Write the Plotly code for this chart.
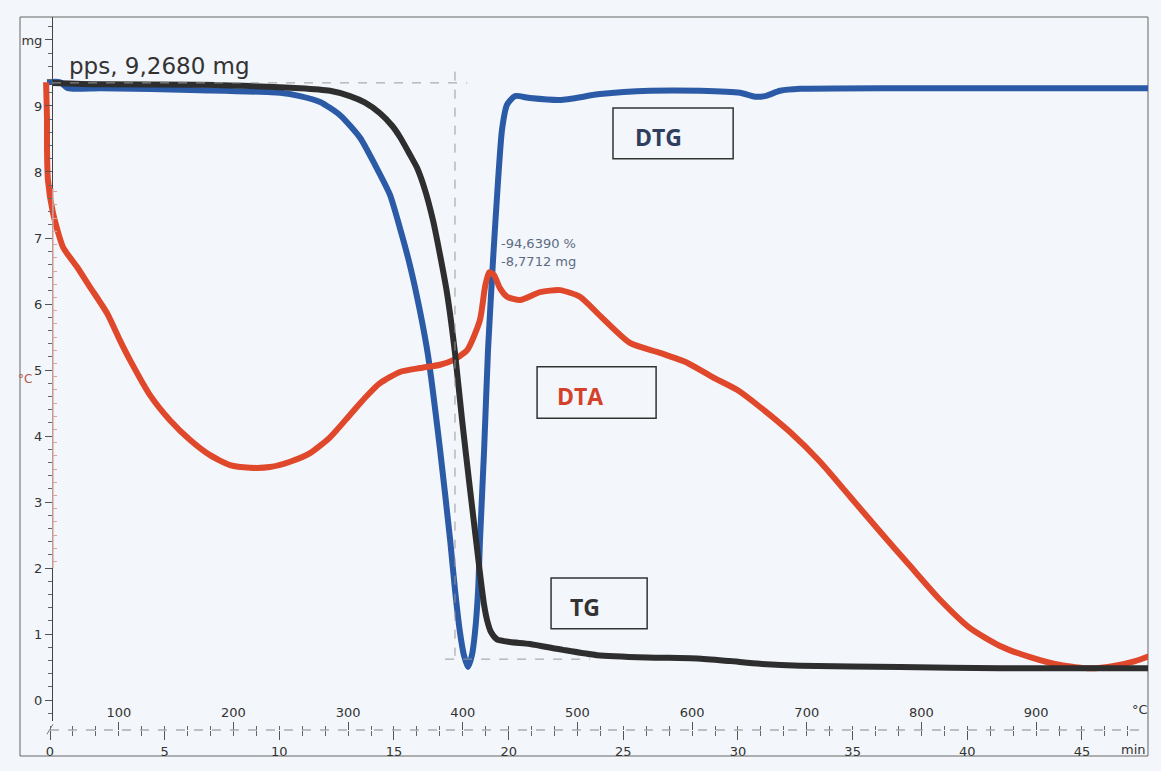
import plotly.graph_objects as go

# ---- data (time in min, signal in mg-axis units) ----
tg_t = [0.09, 2.18, 6.54, 10.90, 12.21, 13.08, 13.74, 14.39, 14.92, 15.26, 15.70, 16.01,
        16.35, 16.70, 17.01, 17.31, 17.66, 17.97, 18.32, 18.58, 18.75, 18.93, 19.06, 19.23,
        19.49, 20.06, 20.93, 22.37, 23.86, 26.04, 28.22, 29.66, 30.96, 32.71, 37.07, 41.43, 47.88]
tg_v = [9.35, 9.33, 9.32, 9.27, 9.23, 9.15, 9.05, 8.89, 8.70, 8.53, 8.26, 8.06,
        7.73, 7.27, 6.74, 6.17, 5.26, 4.24, 3.18, 2.42, 1.92, 1.44, 1.21, 1.03,
        0.92, 0.88, 0.85, 0.76, 0.68, 0.645, 0.63, 0.59, 0.55, 0.52, 0.50, 0.48, 0.48]

dtg_t = [-0.13, 0.44, 0.78, 2.18, 6.54, 10.03, 10.90, 11.78, 12.65, 13.52, 14.17, 14.83,
         15.26, 15.70, 16.14, 16.48, 17.01, 17.45, 17.66, 17.88, 18.05, 18.23, 18.40, 18.53,
         18.67, 18.75, 18.93, 19.10, 19.32, 19.54, 19.71, 19.93, 20.28, 20.93, 22.24, 23.99,
         26.17, 28.35, 30.09, 30.75, 31.18, 31.84, 32.71, 37.07, 47.88]
dtg_v = [9.36, 9.36, 9.27, 9.27, 9.24, 9.20, 9.15, 9.06, 8.86, 8.52, 8.11, 7.65,
         7.15, 6.58, 5.88, 5.23, 3.79, 2.42, 1.67, 1.02, 0.68, 0.50, 0.68, 1.02,
         1.67, 2.42, 3.79, 5.30, 6.67, 7.88, 8.64, 9.02, 9.15, 9.12, 9.09, 9.18,
         9.23, 9.23, 9.20, 9.14, 9.15, 9.23, 9.26, 9.27, 9.27]

dta_t = [-0.17, -0.13, -0.13, -0.09, 0.13, 0.57, 1.18, 1.74, 2.49, 3.05, 3.49, 4.36,
         5.23, 6.11, 6.98, 7.85, 8.72, 9.59, 10.47, 11.34, 12.21, 13.08, 13.74, 14.39,
         15.26, 16.14, 17.01, 17.58, 18.19, 18.75, 18.97, 19.15, 19.36, 19.62, 19.93, 20.50,
         21.37, 22.24, 23.11, 23.99, 25.29, 26.60, 27.78, 28.91, 29.96, 30.96, 32.27, 33.58,
         34.89, 36.20, 37.51, 38.81, 40.12, 41.43, 42.74, 44.05, 45.36, 46.45, 47.32, 47.97]
dta_v = [9.36, 8.79, 8.33, 7.88, 7.38, 6.86, 6.56, 6.26, 5.86, 5.45, 5.15, 4.62,
         4.24, 3.94, 3.71, 3.56, 3.52, 3.53, 3.61, 3.74, 3.98, 4.32, 4.58, 4.80,
         4.97, 5.03, 5.08, 5.15, 5.30, 5.76, 6.26, 6.48, 6.44, 6.24, 6.11, 6.06,
         6.18, 6.21, 6.11, 5.82, 5.41, 5.26, 5.11, 4.89, 4.70, 4.44, 4.06, 3.61,
         3.08, 2.55, 2.03, 1.52, 1.09, 0.82, 0.65, 0.53, 0.48, 0.52, 0.59, 0.67]

y_tickvals = [0, 1, 2, 3, 4, 5, 6, 7, 8, 9, 10]
y_ticktext = ["0", "1", "2", "3", "4", "5", "6", "7", "8", "9", "mg"]
min_ticks = [0, 5, 10, 15, 20, 25, 30, 35, 40, 45]
temp_ticks = [100, 200, 300, 400, 500, 600, 700, 800, 900]

# ---- styling ----
BG = "#f3f6fa"
FONT = "DejaVu Sans"
C_TG, C_DTG, C_DTA = "#2e2e2e", "#2b5aa6", "#e0482b"
PINK = "#d9a3a0"

T_MIN, T_MAX = -0.436, 47.88          # minutes
TEMP0, RATE = 40, 20                   # °C at t=0, K/min (heating programme)
Y_RANGE = [-0.324, 10.348]
Y_DOMAIN = [0.012, 1]
Y_POS = 0.0108

tg_temp = [TEMP0 + RATE * t for t in tg_t]   # TG drawn against the °C scale

fig = go.Figure()
fig.add_trace(go.Scatter(x=dta_t, y=dta_v, mode="lines", name="DTA", yaxis="y3",
                         line=dict(color=C_DTA, width=6, shape="spline", smoothing=0.6)))
fig.add_trace(go.Scatter(x=tg_temp, y=tg_v, mode="lines", name="TG", xaxis="x2",
                         line=dict(color=C_TG, width=6, shape="spline", smoothing=0.6)))
fig.add_trace(go.Scatter(x=dtg_t, y=dtg_v, mode="lines", name="DTG",
                         line=dict(color=C_DTG, width=6, shape="spline", smoothing=0.6)))

axis_font = dict(family=FONT, size=13, color="#333")
pink_ticks = [round(2.1 + 0.2 * i, 2) for i in range(29)]

fig.update_layout(
    width=1161, height=771,
    margin=dict(l=40, r=13, t=17, b=41),
    paper_bgcolor=BG, plot_bgcolor=BG,
    showlegend=False,
    font=dict(family=FONT),
    xaxis=dict(range=[T_MIN, T_MAX], domain=[0, 1], anchor="free", position=0,
               side="bottom", showline=False, showgrid=False, zeroline=False,
               tickvals=min_ticks, ticks="outside", ticklen=9, tickwidth=1, tickcolor="#555",
               minor=dict(ticks="outside", dtick=1, tick0=0, ticklen=5, tickcolor="#666"),
               tickfont=axis_font),
    xaxis2=dict(range=[TEMP0 + RATE * T_MIN, TEMP0 + RATE * T_MAX], overlaying="x",
                anchor="free", position=0, side="top", showline=False, showgrid=False,
                zeroline=False, tickvals=temp_ticks, ticks="outside", ticklen=8, tickwidth=1,
                tickcolor="#555",
                minor=dict(ticks="outside", dtick=20, tick0=0, ticklen=4, tickcolor="#666"),
                tickfont=axis_font),
    yaxis=dict(range=Y_RANGE, domain=Y_DOMAIN, anchor="free", position=Y_POS,
               showline=True, linecolor="#444", linewidth=1, showgrid=False, zeroline=False,
               tickvals=y_tickvals, ticktext=y_ticktext, ticks="outside", ticklen=7,
               tickcolor="#555",
               minor=dict(ticks="outside", dtick=0.2, tick0=0, ticklen=4, tickcolor="#666"),
               tickfont=axis_font),
    yaxis3=dict(range=Y_RANGE, overlaying="y", anchor="free", position=Y_POS,
                showline=False, showgrid=False, zeroline=False, showticklabels=False,
                tickvals=pink_ticks, ticks="inside", ticklen=4, tickcolor=PINK),
)

# outer frame and dashed temperature/time axis line
fig.add_shape(type="rect", xref="paper", yref="paper", x0=-0.01805, x1=1.0,
              y0=-0.03647, y1=1.0, line=dict(color="#666", width=1), layer="below")
fig.add_shape(type="line", xref="paper", yref="paper", x0=0.009, x1=1.0, y0=0, y1=0,
              line=dict(color="#888", width=1, dash="dash"))
fig.add_shape(type="line", xref="paper", yref="paper", x0=0.0063, x1=0.0117,
              y0=-0.006, y1=0.008, line=dict(color="#777", width=1))
# pinkish °C scale segment on the left axis
fig.add_shape(type="line", xref="paper", yref="y", x0=Y_POS + 0.0008, x1=Y_POS + 0.0008,
              y0=2.0, y1=7.75, line=dict(color=PINK, width=1.5))

# step markers (dashed)
fig.add_shape(type="line", xref="x", yref="y", x0=0.09, x1=18.19, y0=9.35, y1=9.35,
              line=dict(color="#9a9a9a", width=1, dash="dash"))
fig.add_shape(type="line", xref="x", yref="y", x0=17.66, x1=17.66, y0=9.52, y1=0.67,
              line=dict(color="#9a9a9a", width=1, dash="dash"))
fig.add_shape(type="line", xref="x", yref="y", x0=17.23, x1=23.55, y0=0.62, y1=0.62,
              line=dict(color="#9a9a9a", width=1, dash="dash"))

# label boxes
boxes = [("DTG", 24.55, 29.79, 8.20, 8.97, 26.52, 8.53, "#2f3d5e"),
         ("DTA", 21.24, 26.43, 4.27, 5.05, 23.11, 4.61, "#d4412a"),
         ("TG", 21.85, 26.04, 1.08, 1.85, 23.33, 1.41, "#333333")]
for txt, x0, x1, y0, y1, tx, ty, col in boxes:
    fig.add_shape(type="rect", xref="x", yref="y", x0=x0, x1=x1, y0=y0, y1=y1,
                  line=dict(color="#333", width=1.5))
    fig.add_annotation(x=tx, y=ty, xref="x", yref="y", text=f"<b>{txt}</b>", showarrow=False,
                       xanchor="center", yanchor="middle",
                       font=dict(family="Open Sans", size=23, color=col))

# texts
fig.add_annotation(x=0.74, y=9.6, xref="x", yref="y", text="pps, 9,2680 mg", showarrow=False,
                   xanchor="left", yanchor="middle", font=dict(family=FONT, size=23, color="#333"))
fig.add_annotation(x=19.58, y=6.92, xref="x", yref="y", text="-94,6390 %", showarrow=False,
                   xanchor="left", yanchor="middle",
                   font=dict(family=FONT, size=13, color="#5b6b82"))
fig.add_annotation(x=19.58, y=6.65, xref="x", yref="y", text="-8,7712 mg", showarrow=False,
                   xanchor="left", yanchor="middle",
                   font=dict(family=FONT, size=13, color="#5b6b82"))
fig.add_annotation(x=-0.0135, y=(730 - 379) / 713, xref="paper", yref="paper", text="°C",
                   showarrow=False, xanchor="center", yanchor="middle",
                   font=dict(family=FONT, size=12, color="#b5564a"))
fig.add_annotation(x=0.9928, y=(730 - 709) / 713, xref="paper", yref="paper", text="°C",
                   showarrow=False, xanchor="center", yanchor="middle",
                   font=dict(family=FONT, size=13, color="#333"))
fig.add_annotation(x=0.9865, y=(730 - 749) / 713, xref="paper", yref="paper", text="min",
                   showarrow=False, xanchor="center", yanchor="middle",
                   font=dict(family=FONT, size=13, color="#333"))

fig.write_html("out.html")
